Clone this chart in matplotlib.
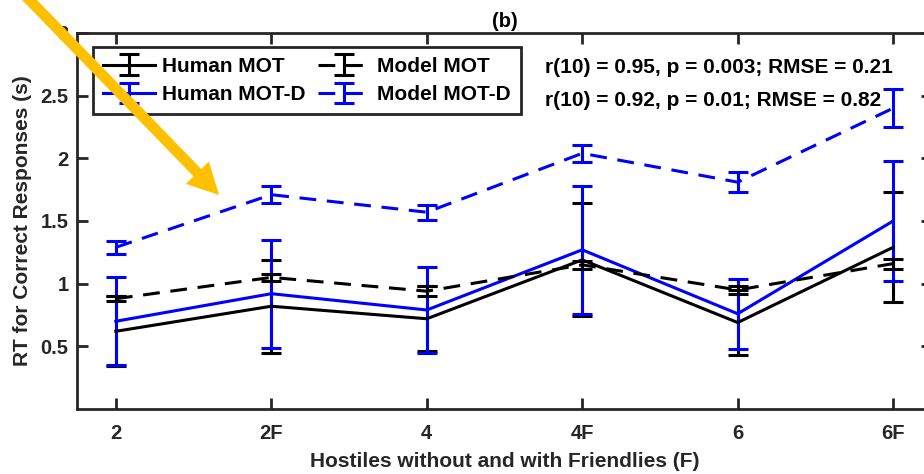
import numpy as np
import matplotlib.pyplot as plt
from matplotlib.patches import FancyArrowPatch

plt.rcParams['font.family'] = ['Liberation Sans', 'DejaVu Sans']

conditions = ['2', '2F', '4', '4F', '6', '6F']

# tiempos de respuesta medios (s) y barras de error
human_mot = [0.62, 0.82, 0.72, 1.19, 0.69, 1.29]
human_mot_err = [0.28, 0.37, 0.26, 0.45, 0.26, 0.44]
human_motd = [0.70, 0.92, 0.79, 1.27, 0.76, 1.50]
human_motd_err = [0.35, 0.43, 0.34, 0.51, 0.28, 0.48]
model_mot = [0.88, 1.05, 0.94, 1.15, 0.95, 1.16]
model_mot_err = [0.02, 0.03, 0.04, 0.03, 0.03, 0.04]
model_motd = [1.29, 1.71, 1.57, 2.04, 1.81, 2.40]
model_motd_err = [0.05, 0.07, 0.06, 0.07, 0.08, 0.15]

stats_mot = 'r(10) = 0.95, p = 0.003; RMSE = 0.21'
stats_motd = 'r(10) = 0.92, p = 0.01; RMSE = 0.82'

gris = '#262626'
x = np.arange(1, len(conditions) + 1)

fig = plt.figure(figsize=(9.24, 4.74), dpi=100)
ax = fig.add_axes([77/924, 65/474, 855/924, 376/474])

kw = dict(linewidth=2.2, capsize=7, capthick=2.2, elinewidth=2.2)
ax.errorbar(x, human_mot, yerr=human_mot_err, color='k', label='Human MOT', **kw)
ax.errorbar(x, human_motd, yerr=human_motd_err, color='#0000ff', label='Human MOT-D', **kw)
ax.errorbar(x, model_mot, yerr=model_mot_err, color='k', linestyle=(0, (5.5, 3.5)),
            label='Model MOT', **kw)
ax.errorbar(x, model_motd, yerr=model_motd_err, color='#0000ff', linestyle=(0, (5.5, 3.5)),
            label='Model MOT-D', **kw)

ax.set_xlim(0.75, 6.25)
ax.set_ylim(0, 3)
ax.set_xticks(x)
ax.set_xticklabels(conditions)
ax.set_yticks([0.5, 1, 1.5, 2, 2.5, 3])
ax.set_yticklabels(['0.5', '1', '1.5', '2', '2.5', '3'])
ax.tick_params(direction='in', length=8, width=2, colors=gris, labelsize=14.5,
               top=True, right=True)
ax.tick_params(axis='x', pad=11)
ax.tick_params(axis='y', pad=6)
for lab in ax.get_xticklabels() + ax.get_yticklabels():
    lab.set_fontweight('bold')
for s in ax.spines.values():
    s.set_linewidth(2)
    s.set_color(gris)

ax.set_xlabel('Hostiles without and with Friendlies (F)', fontsize=15, fontweight='bold',
              color=gris, labelpad=6)
ax.set_ylabel('RT for Correct Responses (s)', fontsize=15, fontweight='bold',
              color=gris, labelpad=6)
ax.set_title('(b)', fontsize=14.5, fontweight='bold', color='k', pad=4)

leg = ax.legend(ncol=2, loc='upper left', bbox_to_anchor=(0.0187, 0.9628),
                prop={'weight': 'bold', 'size': 15}, frameon=True, fancybox=False,
                handlelength=2.5, handletextpad=0.34, columnspacing=0.6, borderpad=0.48,
                labelspacing=0.45, borderaxespad=0)
leg.get_frame().set_edgecolor(gris)
leg.get_frame().set_linewidth(2)
leg.get_frame().set_alpha(1)

ax.text(0.547, 0.894, stats_mot, transform=ax.transAxes, fontsize=15, fontweight='bold',
        va='baseline')
ax.text(0.547, 0.806, stats_motd, transform=ax.transAxes, fontsize=15, fontweight='bold',
        va='baseline')

# flecha de resaltado
flecha = FancyArrowPatch((14/924, 1 + 16/474), (221/924, 1 - 197/474),
                         transform=fig.transFigure,
                         arrowstyle='simple,head_length=1.6,head_width=1.65,tail_width=0.55',
                         mutation_scale=14, color='#ffc000', linewidth=0)
fig.patches.append(flecha)

fig.savefig('out.png', dpi=100)
